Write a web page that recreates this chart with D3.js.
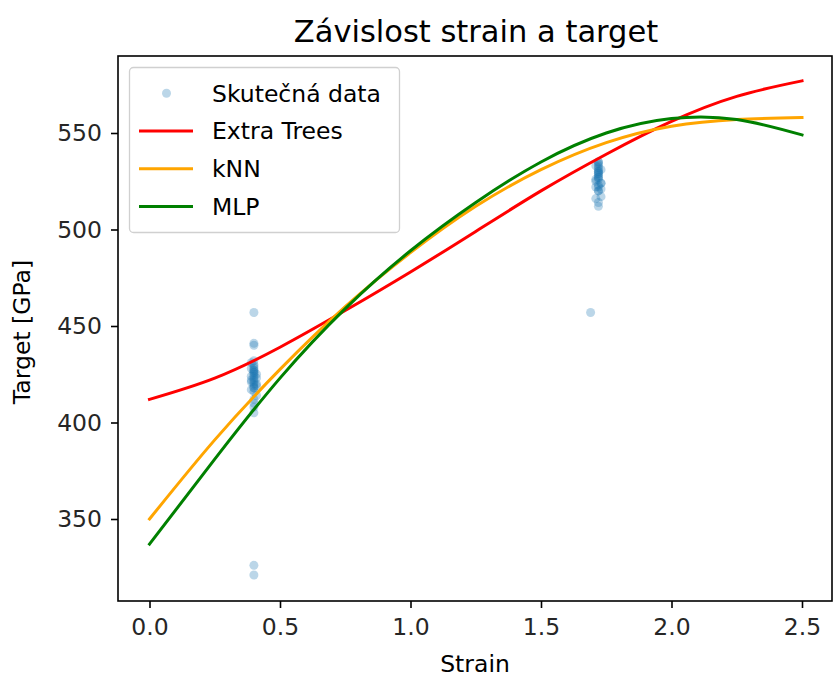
<!DOCTYPE html>
<html>
<head>
<meta charset="utf-8">
<script src="https://cdn.jsdelivr.net/npm/d3@7"></script>
<style>
  body { margin: 0; background: #fff; }
  svg { display: block; font-family: "DejaVu Sans", sans-serif; }
</style>
</head>
<body>
<svg id="chart" width="833" height="679"></svg>
<script>
// Measured samples (strain, target in GPa)
const scatterStrain = [
  0.40, 0.40, 0.40, 0.40, 0.40, 0.40, 0.40, 0.40, 0.40, 0.40,
  0.39, 0.40, 0.41, 0.40, 0.39, 0.40, 0.41, 0.40, 0.40, 0.39,
  0.40, 0.41, 0.40, 0.40, 0.40, 0.40, 0.40, 0.40, 0.39, 0.40,
  0.41, 0.40, 0.39, 0.40, 0.41, 0.40, 0.40, 0.39,
  1.72, 1.72, 1.72, 1.72, 1.72, 1.72, 1.72, 1.72, 1.72, 1.72,
  1.71, 1.73, 1.72, 1.71, 1.73, 1.72, 1.72, 1.73, 1.71, 1.72,
  1.72, 1.72, 1.71, 1.73, 1.72, 1.72, 1.71, 1.73, 1.72, 1.72,
  1.69
];
const scatterTarget = [
  457, 441, 440, 432, 430, 429, 428, 427, 426, 425,
  424, 424, 423, 422, 421, 421, 420, 419, 418, 417,
  416, 414, 412, 410, 408, 405, 326, 321, 431, 427,
  425, 423, 422, 420, 419, 418, 426, 428,
  535, 534, 533, 532, 531, 530, 529, 528, 527, 526,
  525, 524, 523, 522, 521, 520, 520, 517, 516, 514,
  512, 530, 533, 531, 529, 527, 526, 524, 522, 535,
  457
];

// Model predictions on a strain grid
const gridStrain = [0.0, 0.25, 0.5, 0.75, 1.0, 1.25, 1.5, 1.75, 2.0, 2.25, 2.5];
const extraTrees = [412, 423, 439, 458, 478, 499, 520, 539, 556, 569, 577];
const knn        = [350, 391, 427.5, 460, 488, 512, 531, 545, 553.5, 557, 558];
const mlp        = [337, 381, 423, 459, 489, 514, 535, 550, 557.5, 557, 549];

const xTicks = [0.0, 0.5, 1.0, 1.5, 2.0, 2.5];
const yTicks = [350, 400, 450, 500, 550];

const seriesNames = ["Extra Trees", "kNN", "MLP"];
const seriesColors = ["#ff0000", "#ffa500", "#008000"];
const seriesValues = [extraTrees, knn, mlp];

const svg = d3.select("#chart");
const plot = { left: 118, right: 832, top: 56, bottom: 601 };

const x = d3.scaleLinear().domain([0, 2.5]).range([149.5, 802]);
const y = d3.scaleLinear().domain([350, 550]).range([519, 133]);

// Data area clip
svg.append("clipPath").attr("id", "clip")
  .append("rect")
  .attr("x", plot.left).attr("y", plot.top)
  .attr("width", plot.right - plot.left).attr("height", plot.bottom - plot.top);

const g = svg.append("g").attr("clip-path", "url(#clip)");

// Scatter of measured values
g.selectAll("circle.pt")
  .data(scatterStrain.map((s, i) => [s, scatterTarget[i]]))
  .join("circle")
  .attr("class", "pt")
  .attr("cx", d => x(d[0]))
  .attr("cy", d => y(d[1]))
  .attr("r", 4.5)
  .attr("fill", "#1f77b4")
  .attr("fill-opacity", 0.3);

// Model curves
const line = d3.line()
  .x(d => x(d[0]))
  .y(d => y(d[1]))
  .curve(d3.curveNatural);

seriesValues.forEach((vals, k) => {
  g.append("path")
    .datum(gridStrain.map((s, i) => [s, vals[i]]))
    .attr("d", line)
    .attr("fill", "none")
    .attr("stroke", seriesColors[k])
    .attr("stroke-width", 3)
    .attr("stroke-linecap", "square");
});

// Axes
const xAxis = d3.axisBottom(x).tickValues(xTicks).tickFormat(d3.format(".1f")).tickSize(7).tickPadding(10);
const yAxis = d3.axisLeft(y).tickValues(yTicks).tickFormat(d3.format("d")).tickSize(7).tickPadding(9);

const gx = svg.append("g").attr("transform", `translate(0,${plot.bottom})`).call(xAxis);
const gy = svg.append("g").attr("transform", `translate(${plot.left},0)`).call(yAxis);
[gx, gy].forEach(a => {
  a.select(".domain").remove();
  a.selectAll(".tick line").attr("stroke", "#000").attr("stroke-width", 1.6);
  a.selectAll(".tick text").attr("fill", "#262626").attr("font-size", 23.5)
    .attr("font-family", "DejaVu Sans, sans-serif");
});

// Frame
svg.append("rect")
  .attr("x", plot.left).attr("y", plot.top)
  .attr("width", plot.right - plot.left).attr("height", plot.bottom - plot.top)
  .attr("fill", "none").attr("stroke", "#000").attr("stroke-width", 1.6);

// Title and axis labels
svg.append("text").attr("x", 476).attr("y", 42).attr("text-anchor", "middle")
  .attr("font-size", 30.5).attr("fill", "#000").text("Závislost strain a target");
svg.append("text").attr("x", 475).attr("y", 672).attr("text-anchor", "middle")
  .attr("font-size", 23.5).attr("fill", "#000").text("Strain");
svg.append("text").attr("transform", "translate(30,332) rotate(-90)").attr("text-anchor", "middle")
  .attr("font-size", 23.5).attr("fill", "#000").text("Target [GPa]");

// Legend
const lg = svg.append("g");
lg.append("rect")
  .attr("x", 129.5).attr("y", 67.5).attr("width", 270).attr("height", 165).attr("rx", 4)
  .attr("fill", "#fff").attr("fill-opacity", 0.8).attr("stroke", "#d0d0d0").attr("stroke-width", 1.3);

const rowY = [93.3, 131, 168.7, 206.4];
lg.append("circle").attr("cx", 166.5).attr("cy", rowY[0]).attr("r", 4.5)
  .attr("fill", "#1f77b4").attr("fill-opacity", 0.3);
lg.append("text").attr("x", 212).attr("y", rowY[0]).attr("dy", "0.35em")
  .attr("font-size", 23.5).attr("fill", "#000").text("Skutečná data");

seriesNames.forEach((name, k) => {
  const yy = rowY[k + 1];
  lg.append("line").attr("x1", 139).attr("x2", 193).attr("y1", yy).attr("y2", yy)
    .attr("stroke", seriesColors[k]).attr("stroke-width", 3);
  lg.append("text").attr("x", 212).attr("y", yy).attr("dy", "0.35em")
    .attr("font-size", 23.5).attr("fill", "#000").text(name);
});
</script>
</body>
</html>
